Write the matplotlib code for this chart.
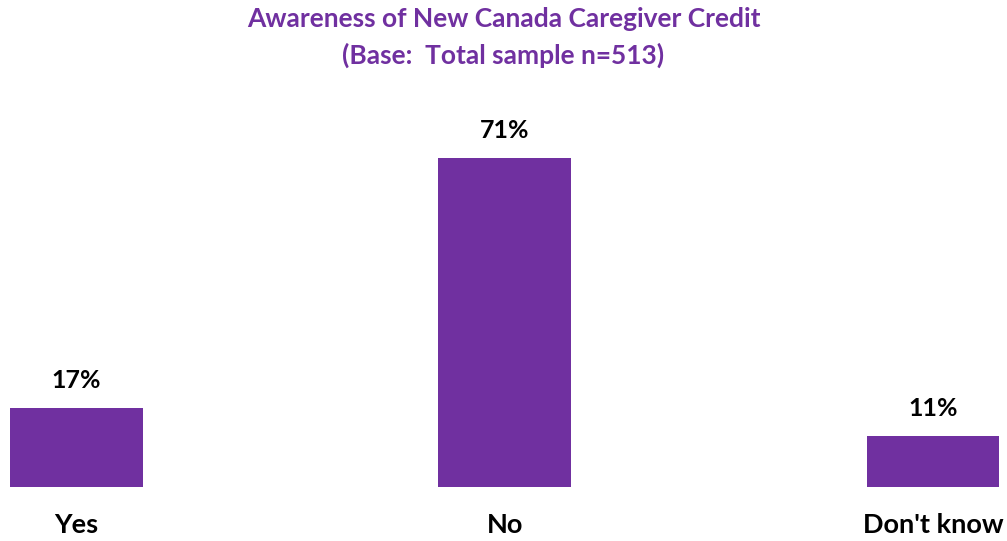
import matplotlib
matplotlib.use("Agg")
import matplotlib.pyplot as plt

plt.rcParams['font.family'] = ['Lato', 'DejaVu Sans']

categorias = ["Yes", "No", "Don't know"]
valores = [17, 71, 11]
etiquetas = ["17%", "71%", "11%"]

morado = '#7030A0'

fig = plt.figure(figsize=(10.07, 5.41), dpi=100)
ax = fig.add_axes([0, 54 / 541, 1, 1 - 54 / 541])

x = range(len(categorias))
ax.bar(x, valores, width=0.31, color=morado)

# porcentajes encima de cada barra
for xi, v, et in zip(x, valores, etiquetas):
    ax.annotate(et, (xi, v), xytext=(0, 20), textcoords='offset points',
                ha='center', va='center', fontsize=18, fontweight='bold', color='black')

ax.set_xlim(-76.5 / 428.25, 2 + 74 / 428.25)
ax.set_ylim(0, (541 - 54) / 4.635)
ax.set_xticks(list(x))
ax.set_xticklabels(categorias, fontsize=19.5, fontweight='bold')
ax.tick_params(axis='x', length=0, pad=19)
ax.set_yticks([])
for s in ax.spines.values():
    s.set_visible(False)

fig.text(0.5, 1 - 19 / 541, 'Awareness of New Canada Caregiver Credit',
         ha='center', va='center', fontsize=19, fontweight='bold', color=morado)
fig.text(0.5, 1 - 55 / 541, '(Base:  Total sample n=513)',
         ha='center', va='center', fontsize=19, fontweight='bold', color=morado)

fig.savefig('out.png', dpi=100)
